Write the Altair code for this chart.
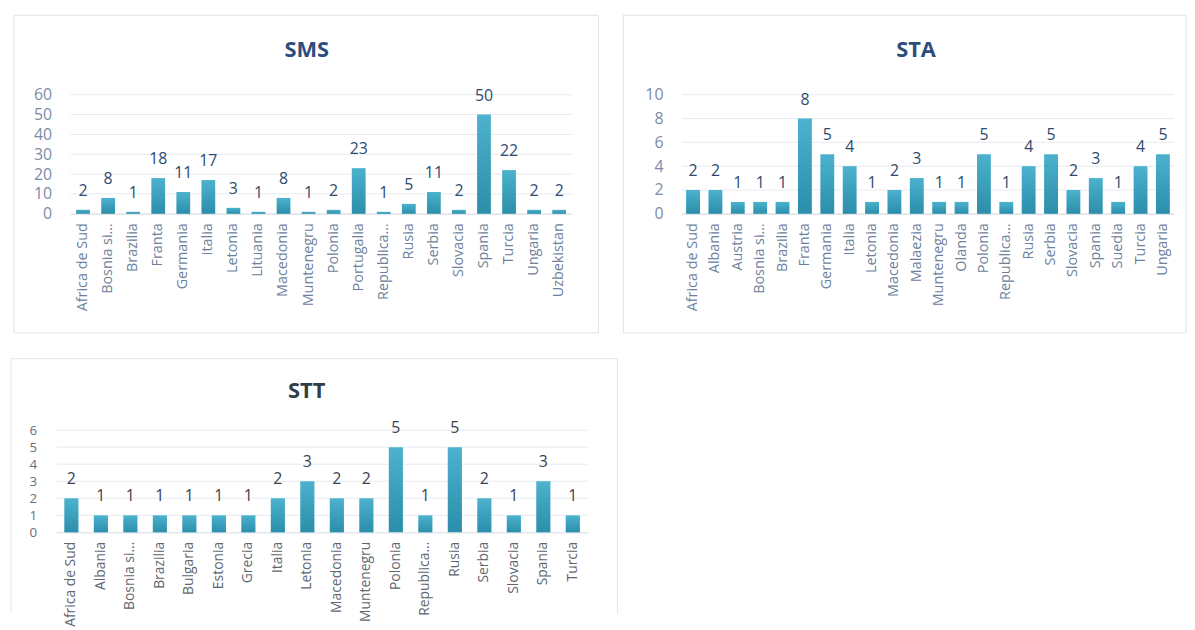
import altair as alt
import pandas as pd

sms_countries = ["Africa de Sud", "Bosnia si…", "Brazilia", "Franta", "Germania", "Italia",
                 "Letonia", "Lituania", "Macedonia", "Muntenegru", "Polonia", "Portugalia",
                 "Republica…", "Rusia", "Serbia", "Slovacia", "Spania", "Turcia", "Ungaria",
                 "Uzbekistan"]
sms_values = [2, 8, 1, 18, 11, 17, 3, 1, 8, 1, 2, 23, 1, 5, 11, 2, 50, 22, 2, 2]
sms_ticks = [0, 10, 20, 30, 40, 50, 60]

sta_countries = ["Africa de Sud", "Albania", "Austria", "Bosnia si…", "Brazilia", "Franta",
                 "Germania", "Italia", "Letonia", "Macedonia", "Malaezia", "Muntenegru",
                 "Olanda", "Polonia", "Republica…", "Rusia", "Serbia", "Slovacia", "Spania",
                 "Suedia", "Turcia", "Ungaria"]
sta_values = [2, 2, 1, 1, 1, 8, 5, 4, 1, 2, 3, 1, 1, 5, 1, 4, 5, 2, 3, 1, 4, 5]
sta_ticks = [0, 2, 4, 6, 8, 10]

stt_countries = ["Africa de Sud", "Albania", "Bosnia si…", "Brazilia", "Bulgaria", "Estonia",
                 "Grecia", "Italia", "Letonia", "Macedonia", "Muntenegru", "Polonia",
                 "Republica…", "Rusia", "Serbia", "Slovacia", "Spania", "Turcia"]
stt_values = [2, 1, 1, 1, 1, 1, 1, 2, 3, 2, 2, 5, 1, 5, 2, 1, 3, 1]
stt_ticks = [0, 1, 2, 3, 4, 5, 6]

titles = ["SMS", "STA", "STT"]

FONT = "Open Sans"
BAR_GRAD = alt.LinearGradient(
    gradient="linear", x1=0, x2=0, y1=0, y2=1,
    stops=[alt.GradientStop(color="#4cb2cd", offset=0),
           alt.GradientStop(color="#2b8eaa", offset=1)],
)


def panel(title, cats, vals, ticks, width, height, pad, xrange, ylabel_pad, frame,
          title_pos, label_color, ylabel_color, title_color, value_color, ylabel_size,
          xlabel_size, rules=False):
    df = pd.DataFrame({"country": cats, "value": vals})
    base = alt.Chart(df)
    yscale = alt.Scale(domain=[ticks[0], ticks[-1]], nice=False)
    yaxis = alt.Axis(values=ticks, domain=False, ticks=False, grid=False,
                     labelPadding=ylabel_pad, labelColor=ylabel_color, labelFont=FONT,
                     labelFontSize=ylabel_size)
    x = alt.X("country:N", sort=cats, title=None,
              scale=alt.Scale(paddingInner=pad, paddingOuter=pad / 2, range=xrange),
              axis=alt.Axis(labelAngle=-90, ticks=False, labelPadding=9,
                            domainColor="#d6dbe2", labelColor=label_color,
                            labelFont=FONT, labelFontSize=xlabel_size, labelOverlap=False))
    y = alt.Y("value:Q", title=None, scale=yscale, axis=yaxis)
    grid = alt.Chart(pd.DataFrame({"tick": ticks})).mark_rule(
        color="#e6eaef", strokeWidth=1).encode(
        y=alt.Y("tick:Q", title=None, scale=yscale, axis=yaxis),
        x=alt.value(xrange[0]), x2=alt.value(xrange[1]))
    bars = base.mark_bar(color=BAR_GRAD).encode(x=x, y=y)
    text = base.mark_text(baseline="alphabetic", dy=-14, font=FONT, fontSize=16,
                          color=value_color).encode(x=x, y=y, text="value:Q")
    one = alt.Chart(pd.DataFrame({"t": [title]}))
    fx1, fx2, fy1, fy2 = frame
    if rules:
        fr = (
            one.mark_rule(color="#e3e6ea").encode(x=alt.value(fx1), x2=alt.value(fx2), y=alt.value(fy1))
            + one.mark_rule(color="#e3e6ea").encode(x=alt.value(fx1), y=alt.value(fy1), y2=alt.value(fy2))
            + one.mark_rule(color="#e3e6ea").encode(x=alt.value(fx2), y=alt.value(fy1), y2=alt.value(fy2))
        )
    else:
        fr = one.mark_rect(fill="transparent", stroke="#dfe3e8", strokeWidth=1).encode(
            x=alt.value(fx1), x2=alt.value(fx2), y=alt.value(fy1), y2=alt.value(fy2))
    ttl = one.mark_text(font=FONT, fontSize=22, fontWeight="bold", color=title_color,
                        align="center", baseline="middle").encode(
        x=alt.value(title_pos[0]), y=alt.value(title_pos[1]), text="t:N")
    return alt.layer(fr, grid, ttl, bars, text).properties(width=width, height=height)


sms = panel(titles[0], sms_countries, sms_values, sms_ticks, 505, 120, 0.45, [0, 505], 19,
            (-57, 532, -80, 240), (238, -45), "#6d819c", "#7b8ca6", "#2d4d7c", "#2f4a6e",
            16, 14.5)
sta = panel(titles[1], sta_countries, sta_values, sta_ticks, 496, 120, 0.38, [0, 496], 19,
            (-59, 508, -80, 240), (236, -45), "#6d819c", "#7b8ca6", "#2d4d7c", "#2f4a6e",
            16, 14.5)
stt = panel(titles[2], stt_countries, stt_values, stt_ticks, 521, 103, 0.52, [-14, 521], 34,
            (-60, 551, -72, 185), (238, -39), "#5e6670", "#6a7078", "#333d4a", "#3a4150",
            13.5, 14, rules=True)

chart = alt.vconcat(
    alt.hconcat(sms, sta, spacing=23),
    stt,
    spacing=24,
).properties(
    padding={"left": 2, "top": 4, "right": 0, "bottom": 0},
    background="white",
).configure_view(strokeWidth=0)

chart.save("out.html", embed_options={"renderer": "svg", "actions": False})
